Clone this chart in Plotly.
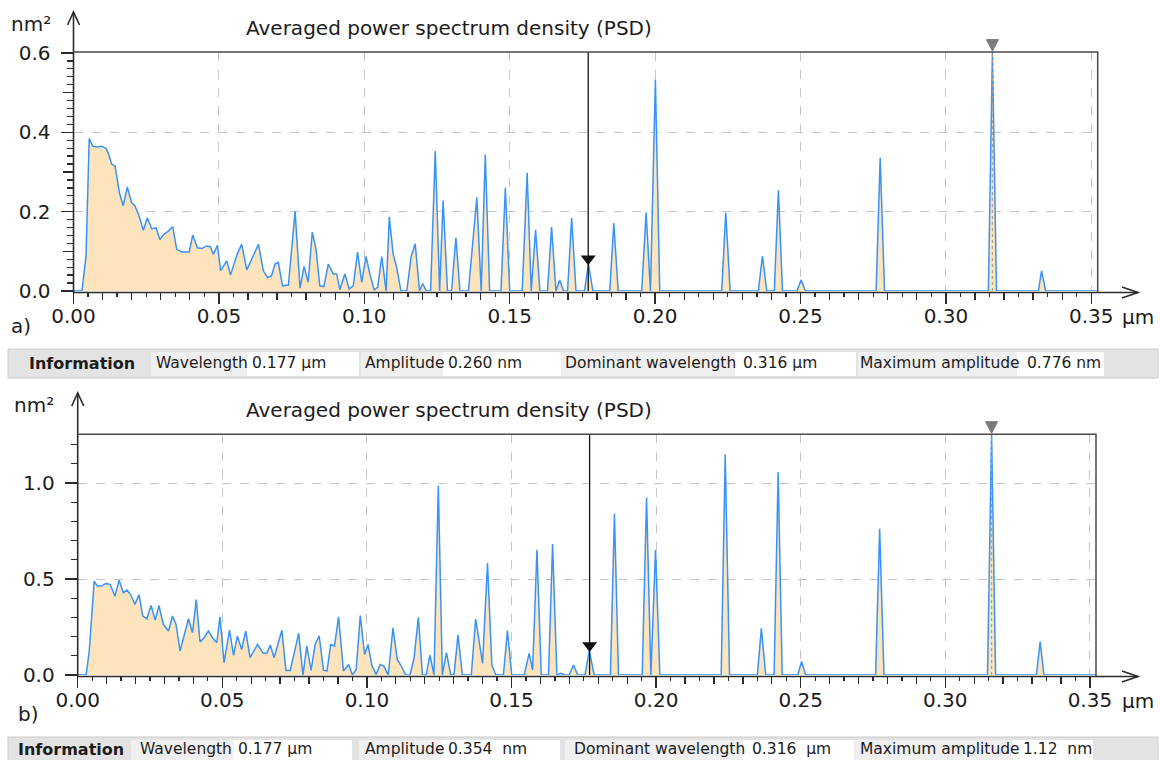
import plotly.graph_objects as go

W, H = 1160, 760

# ---------------- data ----------------
wl_a = [0.0000, 0.0029, 0.0043, 0.0054, 0.0066, 0.0080, 0.0097, 0.0112, 0.0120, 0.0131,
        0.0143, 0.0158, 0.0171, 0.0185, 0.0200, 0.0211, 0.0226, 0.0240, 0.0254, 0.0269,
        0.0284, 0.0297, 0.0311, 0.0326, 0.0341, 0.0355, 0.0372, 0.0398, 0.0410, 0.0426,
        0.0441, 0.0456, 0.0470, 0.0481, 0.0495, 0.0506, 0.0527, 0.0540, 0.0563, 0.0578,
        0.0596, 0.0636, 0.0653, 0.0667, 0.0681, 0.0693, 0.0704, 0.0719, 0.0739, 0.0762,
        0.0779, 0.0793, 0.0807, 0.0821, 0.0834, 0.0847, 0.0861, 0.0876, 0.0893, 0.0905,
        0.0916, 0.0933, 0.0948, 0.0962, 0.0977, 0.0991, 0.1006, 0.1020, 0.1034, 0.1046,
        0.1060, 0.1075, 0.1086, 0.1099, 0.1111, 0.1126, 0.1146, 0.1161, 0.1175, 0.1190,
        0.1201, 0.1213, 0.1228, 0.1244, 0.1259, 0.1271, 0.1286, 0.1300, 0.1315, 0.1329,
        0.1358, 0.1387, 0.1402, 0.1416, 0.1431, 0.1470, 0.1485, 0.1500, 0.1543, 0.1560,
        0.1574, 0.1589, 0.1604, 0.1630, 0.1644, 0.1659, 0.1672, 0.1685, 0.1699, 0.1713,
        0.1728, 0.1757, 0.1771, 0.1786, 0.1844, 0.1858, 0.1873, 0.1954, 0.1969, 0.1984,
        0.2001, 0.2016, 0.2229, 0.2243, 0.2258, 0.2355, 0.2369, 0.2384, 0.2410, 0.2424,
        0.2438, 0.2488, 0.2502, 0.2517, 0.2760, 0.2774, 0.2789, 0.3146, 0.3160, 0.3174,
        0.3318, 0.3329, 0.3343, 0.3522]
psd_a = [0.000, 0.000, 0.088, 0.384, 0.365, 0.363, 0.365, 0.359, 0.347, 0.320,
         0.315, 0.247, 0.215, 0.262, 0.222, 0.215, 0.188, 0.153, 0.184, 0.157,
         0.159, 0.130, 0.143, 0.151, 0.162, 0.105, 0.098, 0.098, 0.141, 0.109,
         0.107, 0.113, 0.112, 0.093, 0.115, 0.051, 0.076, 0.040, 0.093, 0.118,
         0.053, 0.118, 0.051, 0.034, 0.038, 0.068, 0.072, 0.013, 0.015, 0.201,
         0.007, 0.062, 0.022, 0.148, 0.105, 0.013, 0.011, 0.068, 0.043, 0.043,
         0.003, 0.043, 0.005, 0.013, 0.098, 0.022, 0.087, 0.040, 0.003, 0.009,
         0.087, 0.000, 0.187, 0.094, 0.061, 0.000, 0.000, 0.086, 0.119, 0.000,
         0.019, 0.000, 0.000, 0.353, 0.000, 0.228, 0.000, 0.000, 0.134, 0.000,
         0.000, 0.236, 0.000, 0.344, 0.000, 0.000, 0.260, 0.000, 0.000, 0.298,
         0.000, 0.154, 0.000, 0.000, 0.161, 0.000, 0.028, 0.000, 0.000, 0.184,
         0.000, 0.000, 0.068, 0.000, 0.000, 0.171, 0.000, 0.000, 0.198, 0.000,
         0.533, 0.000, 0.000, 0.198, 0.000, 0.000, 0.088, 0.000, 0.000, 0.254,
         0.000, 0.000, 0.028, 0.000, 0.000, 0.336, 0.000, 0.000, 0.602, 0.000,
         0.000, 0.051, 0.000, 0.000]

wl_b = [0.0000, 0.0029, 0.0040, 0.0057, 0.0068, 0.0083, 0.0098, 0.0112, 0.0129, 0.0143,
        0.0158, 0.0170, 0.0183, 0.0198, 0.0212, 0.0225, 0.0239, 0.0254, 0.0268, 0.0281,
        0.0296, 0.0314, 0.0328, 0.0340, 0.0354, 0.0369, 0.0383, 0.0397, 0.0410, 0.0423,
        0.0437, 0.0452, 0.0466, 0.0481, 0.0492, 0.0506, 0.0525, 0.0539, 0.0552, 0.0567,
        0.0581, 0.0596, 0.0622, 0.0642, 0.0654, 0.0666, 0.0679, 0.0706, 0.0720, 0.0735,
        0.0764, 0.0779, 0.0792, 0.0807, 0.0821, 0.0835, 0.0850, 0.0862, 0.0875, 0.0888,
        0.0902, 0.0919, 0.0937, 0.0950, 0.0963, 0.0977, 0.0992, 0.1004, 0.1017, 0.1032,
        0.1046, 0.1059, 0.1074, 0.1090, 0.1105, 0.1117, 0.1134, 0.1149, 0.1163, 0.1178,
        0.1192, 0.1205, 0.1218, 0.1232, 0.1247, 0.1261, 0.1275, 0.1290, 0.1301, 0.1315,
        0.1330, 0.1361, 0.1376, 0.1400, 0.1417, 0.1432, 0.1446, 0.1472, 0.1486, 0.1501,
        0.1544, 0.1561, 0.1573, 0.1588, 0.1603, 0.1628, 0.1642, 0.1657, 0.1671, 0.1685,
        0.1700, 0.1714, 0.1729, 0.1754, 0.1769, 0.1786, 0.1842, 0.1856, 0.1870, 0.1952,
        0.1967, 0.1982, 0.1998, 0.2013, 0.2225, 0.2239, 0.2254, 0.2350, 0.2364, 0.2379,
        0.2408, 0.2422, 0.2436, 0.2490, 0.2503, 0.2517, 0.2759, 0.2773, 0.2788, 0.3146,
        0.3160, 0.3174, 0.3315, 0.3328, 0.3341, 0.3521]
psd_b = [0.000, 0.000, 0.125, 0.489, 0.463, 0.463, 0.477, 0.471, 0.411, 0.494,
         0.428, 0.442, 0.419, 0.367, 0.419, 0.307, 0.293, 0.362, 0.286, 0.362,
         0.263, 0.229, 0.307, 0.263, 0.125, 0.220, 0.293, 0.220, 0.393, 0.172,
         0.194, 0.229, 0.194, 0.168, 0.303, 0.064, 0.234, 0.102, 0.203, 0.133,
         0.229, 0.090, 0.159, 0.113, 0.113, 0.156, 0.090, 0.234, 0.024, 0.024,
         0.217, 0.000, 0.151, 0.024, 0.159, 0.203, 0.024, 0.021, 0.159, 0.151,
         0.303, 0.021, 0.055, 0.000, 0.029, 0.310, 0.107, 0.159, 0.050, 0.003,
         0.055, 0.045, 0.000, 0.245, 0.080, 0.052, 0.000, 0.000, 0.087, 0.301,
         0.000, 0.000, 0.104, 0.000, 0.986, 0.000, 0.117, 0.000, 0.000, 0.209,
         0.000, 0.000, 0.292, 0.060, 0.583, 0.052, 0.000, 0.000, 0.231, 0.000,
         0.000, 0.113, 0.026, 0.652, 0.000, 0.000, 0.682, 0.000, 0.009, 0.000,
         0.000, 0.052, 0.000, 0.000, 0.125, 0.000, 0.000, 0.840, 0.000, 0.000,
         0.925, 0.000, 0.652, 0.000, 0.000, 1.148, 0.000, 0.000, 0.243, 0.000,
         0.000, 1.058, 0.000, 0.000, 0.070, 0.000, 0.000, 0.762, 0.000, 0.000,
         1.254, 0.000, 0.000, 0.174, 0.000, 0.000]

x_tick_vals = [0.00, 0.05, 0.10, 0.15, 0.20, 0.25, 0.30, 0.35]
ya_tick_vals = [0.0, 0.2, 0.4, 0.6]
yb_tick_vals = [0.0, 0.5, 1.0]

chart_title = "Averaged power spectrum density (PSD)"
y_unit = "nm²"
x_unit = "µm"
panel_tags = ["a)", "b)"]

cursor_wl = [0.177, 0.177]       # µm
cursor_amp = [0.260, 0.354]      # nm
dominant_wl = [0.316, 0.316]     # µm
max_amp = [0.776, 1.12]          # nm

info_title = "Information"
info_labels = ["Wavelength", "Amplitude", "Dominant wavelength", "Maximum amplitude"]
info_values_a = ["0.177 µm", "0.260 nm", "0.316 µm", "0.776 nm"]
info_values_b = ["0.177 µm", "0.354\u00a0 nm", "0.316\u00a0 µm", "1.12\u00a0 nm"]

# ---------------- layout geometry (pixels) ----------------
FONT = "DejaVu Sans"
TXT = "#1c1c1c"
LINE_BLUE = "#3893f7"
FILL = "#fde4bd"
GRID = "#c4c4c4"
AX = "#2b2b2b"


def px(x):
    return x / W


def py(y):
    return 1 - y / H


panels = [
    dict(xax="x", yax="y", xk="xaxis", yk="yaxis", ox="x3", oxk="xaxis3", oy="y3", oyk="yaxis3",
         left=73.5, right=1097.7, bottom=291.0, top=52.1, xppu=2908.0,
         data=(wl_a, psd_a), yticks=ya_tick_vals, ydt=0.2, ymin_dt=0.02, ymid_dt=0.1,
         title_y=28, unit_xy=(31, 24), tag_xy=(21, 326), xlab_y=317, arrow_tip_y=12),
    dict(xax="x2", yax="y2", xk="xaxis2", yk="yaxis2", ox="x4", oxk="xaxis4", oy=None, oyk=None,
         left=77.7, right=1096.0, bottom=675.0, top=434.2, xppu=2892.0,
         data=(wl_b, psd_b), yticks=yb_tick_vals, ydt=0.5, ymin_dt=0.1, ymid_dt=None,
         title_y=410, unit_xy=(34, 405), tag_xy=(28, 714), xlab_y=701, arrow_tip_y=393),
]

fig = go.Figure()
shapes = []
annotations = []

for i, p in enumerate(panels):
    wl, psd = p["data"]
    ymax = max_amp[i] ** 2
    xmax = (p["right"] - p["left"]) / p["xppu"]
    yppu = (p["bottom"] - p["top"]) / ymax
    xdom = [px(p["left"]), px(p["right"])]
    ydom = [py(p["bottom"]), py(p["top"])]

    tickfont = dict(family=FONT, size=20, color=TXT)
    fig.update_layout(**{
        p["xk"]: dict(domain=xdom, range=[0, xmax], anchor=p["yax"], showline=False, zeroline=False,
                      automargin=False,
                      tickmode="array", tickvals=x_tick_vals,
                      ticktext=[f"{v:.2f}" for v in x_tick_vals],
                      ticks="outside", ticklen=12, tickwidth=1.3, tickcolor=AX,
                      tickfont=tickfont, ticklabelstandoff=-5,
                      showgrid=True, gridcolor=GRID, griddash="dash", gridwidth=1,
                      minor=dict(dtick=0.005, tick0=0, ticks="outside", ticklen=5, tickwidth=1.3,
                                 tickcolor=AX, showgrid=False),
                      fixedrange=True),
        p["yk"]: dict(domain=ydom, range=[0, ymax], anchor=p["xax"], showline=False, zeroline=False,
                      automargin=False,
                      tickmode="array", tickvals=p["yticks"],
                      ticktext=[f"{v:.1f}" for v in p["yticks"]],
                      ticks="outside", ticklen=12, tickwidth=1.3, tickcolor=AX,
                      tickfont=tickfont, ticklabelstandoff=6,
                      showgrid=True, gridcolor=GRID, griddash="dash", gridwidth=1,
                      minor=dict(dtick=p["ymin_dt"], tick0=0, ticks="outside", ticklen=6, tickwidth=1.3,
                                 tickcolor=AX, showgrid=False),
                      fixedrange=True),
        # overlay axis for the medium (0.01) x ticks
        p["oxk"]: dict(overlaying=p["xax"], anchor=p["yax"], range=[0, xmax], showline=False,
                       automargin=False,
                       zeroline=False, showgrid=False, showticklabels=False, ticks="outside",
                       dtick=0.01, tick0=0, ticklen=8, tickwidth=1.3, tickcolor=AX, fixedrange=True),
    })
    fig.add_trace(go.Scatter(x=[0], y=[0], xaxis=p["ox"], yaxis=p["yax"], mode="markers",
                             marker=dict(opacity=0), hoverinfo="skip", showlegend=False))
    if p["oyk"]:
        fig.update_layout(**{
            p["oyk"]: dict(overlaying=p["yax"], anchor=p["xax"], range=[0, ymax], showline=False,
                           automargin=False,
                           zeroline=False, showgrid=False, showticklabels=False, ticks="outside",
                           dtick=p["ymid_dt"], tick0=0, ticklen=10, tickwidth=1.3, tickcolor=AX,
                           fixedrange=True)})
        fig.add_trace(go.Scatter(x=[0], y=[0], xaxis=p["xax"], yaxis=p["oy"], mode="markers",
                                 marker=dict(opacity=0), hoverinfo="skip", showlegend=False))

    # PSD curve
    fig.add_trace(go.Scatter(x=wl, y=psd, xaxis=p["xax"], yaxis=p["yax"], mode="lines",
                             line=dict(color=LINE_BLUE, width=1.5), fill="tozeroy", fillcolor=FILL,
                             hoverinfo="skip", showlegend=False))
    # dominant wavelength dotted line
    fig.add_trace(go.Scatter(x=[dominant_wl[i], dominant_wl[i]], y=[0, ymax], xaxis=p["xax"],
                             yaxis=p["yax"], mode="lines",
                             line=dict(color="#a8a094", width=1.2, dash="dot"),
                             hoverinfo="skip", showlegend=False))
    # cursor line and marker
    fig.add_trace(go.Scatter(x=[cursor_wl[i], cursor_wl[i]], y=[0, ymax], xaxis=p["xax"], yaxis=p["yax"],
                             mode="lines", line=dict(color="#111111", width=1.3),
                             hoverinfo="skip", showlegend=False))
    fig.add_trace(go.Scatter(x=[cursor_wl[i]], y=[cursor_amp[i] ** 2 + 5.5 / yppu], xaxis=p["xax"],
                             yaxis=p["yax"], mode="markers", cliponaxis=False,
                             marker=dict(symbol="triangle-down", size=13, color="#111111"),
                             hoverinfo="skip", showlegend=False))

    # gray triangle marking the dominant wavelength (above the frame)
    dx = 6.0 / p["xppu"]
    d = dominant_wl[i]
    t_tip = p["top"] - 1.0
    t_base = p["top"] - 12.5
    shapes.append(dict(type="path", xref=p["xax"], yref="paper",
                       path=f"M {d-dx},{py(t_base)} L {d+dx},{py(t_base)} L {d},{py(t_tip)} Z",
                       fillcolor="#7b7b7b", line=dict(color="#7b7b7b", width=1)))

    # axes lines with arrows and the box
    ax_y = p["bottom"] + 1.5
    L = p["left"]
    tip_y = p["arrow_tip_y"]
    tip_x = 1138
    line_style = dict(color=AX, width=1.6)
    shapes.append(dict(type="line", xref="paper", yref="paper", x0=px(L), x1=px(L),
                       y0=py(ax_y), y1=py(tip_y), line=line_style))
    shapes.append(dict(type="path", xref="paper", yref="paper",
                       path=f"M {px(L-6)},{py(tip_y+13)} L {px(L)},{py(tip_y)} L {px(L+6)},{py(tip_y+13)}",
                       line=line_style))
    shapes.append(dict(type="line", xref="paper", yref="paper", x0=px(L), x1=px(tip_x),
                       y0=py(ax_y), y1=py(ax_y), line=line_style))
    shapes.append(dict(type="path", xref="paper", yref="paper",
                       path=f"M {px(tip_x-16)},{py(ax_y-5.5)} L {px(tip_x)},{py(ax_y)} L {px(tip_x-16)},{py(ax_y+5.5)}",
                       line=line_style))
    shapes.append(dict(type="path", xref="paper", yref="paper",
                       path=f"M {px(L)},{py(p['top'])} L {px(p['right'])},{py(p['top'])} L {px(p['right'])},{py(ax_y)}",
                       line=dict(color="#4a4a4a", width=1.5)))

    # texts
    annotations.append(dict(text=chart_title, x=px(449), y=py(p["title_y"]), xref="paper", yref="paper",
                            showarrow=False, xanchor="center", yanchor="middle",
                            font=dict(family=FONT, size=20, color=TXT)))
    annotations.append(dict(text=y_unit, x=px(p["unit_xy"][0]), y=py(p["unit_xy"][1]), xref="paper",
                            yref="paper", showarrow=False, xanchor="center", yanchor="middle",
                            font=dict(family=FONT, size=20, color=TXT)))
    annotations.append(dict(text=panel_tags[i], x=px(p["tag_xy"][0]), y=py(p["tag_xy"][1]), xref="paper",
                            yref="paper", showarrow=False, xanchor="center", yanchor="middle",
                            font=dict(family=FONT, size=20, color=TXT)))
    annotations.append(dict(text=x_unit, x=px(1120), y=py(p["xlab_y"]), xref="paper", yref="paper",
                            showarrow=False, xanchor="left", yanchor="middle",
                            font=dict(family=FONT, size=20, color=TXT)))

# ---------------- information bars ----------------
bars = [
    dict(y0=349, y1=378, cy0=352, cy1=376, ty=363, title_x=27, values=info_values_a,
         cells=[(151, 247, 359, 154, 250), (361, 443, 561, 363, 446),
                (561, 735, 856, 563, 741), (858, 1017, 1104, 858, 1025)]),
    dict(y0=737, y1=764, cy0=740, cy1=762, ty=749, title_x=16, values=info_values_b,
         cells=[(131, 233, 352, 138, 236), (359, 441, 560, 363, 446),
                (565, 743, 854, 572, 750), (854, 1013, 1093, 858, 1021)]),
]
for b in bars:
    shapes.append(dict(type="rect", xref="paper", yref="paper", x0=px(8), x1=px(1158),
                       y0=py(b["y1"]), y1=py(b["y0"]), fillcolor="#e3e3e3",
                       line=dict(color="#cbcbcb", width=1), layer="below"))
    annotations.append(dict(text=f"<b>{info_title}</b>", x=px(b["title_x"]), y=py(b["ty"]), xref="paper",
                            yref="paper", showarrow=False, xanchor="left", yanchor="middle",
                            font=dict(family=FONT, size=16, color=TXT)))
    for (lx0, lx1, vx1, ltx, vtx), lab, val in zip(b["cells"], info_labels, b["values"]):
        shapes.append(dict(type="rect", xref="paper", yref="paper", x0=px(lx0), x1=px(lx1),
                           y0=py(b["cy1"]), y1=py(b["cy0"]), fillcolor="#efefef",
                           line=dict(width=0), layer="below"))
        shapes.append(dict(type="rect", xref="paper", yref="paper", x0=px(lx1), x1=px(vx1),
                           y0=py(b["cy1"]), y1=py(b["cy0"]), fillcolor="#ffffff",
                           line=dict(width=0), layer="below"))
        annotations.append(dict(text=lab, x=px(ltx), y=py(b["ty"]), xref="paper", yref="paper",
                                showarrow=False, xanchor="left", yanchor="middle",
                                font=dict(family=FONT, size=15.5, color=TXT)))
        annotations.append(dict(text=val, x=px(vtx), y=py(b["ty"]), xref="paper", yref="paper",
                                showarrow=False, xanchor="left", yanchor="middle",
                                font=dict(family=FONT, size=15.5, color=TXT)))

fig.update_layout(width=W, height=H, margin=dict(l=0, r=0, t=0, b=0, pad=0, autoexpand=False),
                  paper_bgcolor="white", plot_bgcolor="white", showlegend=False,
                  shapes=shapes, annotations=annotations, font=dict(family=FONT, color=TXT))

fig.write_html("out.html", config=dict(displayModeBar=False, staticPlot=True))
